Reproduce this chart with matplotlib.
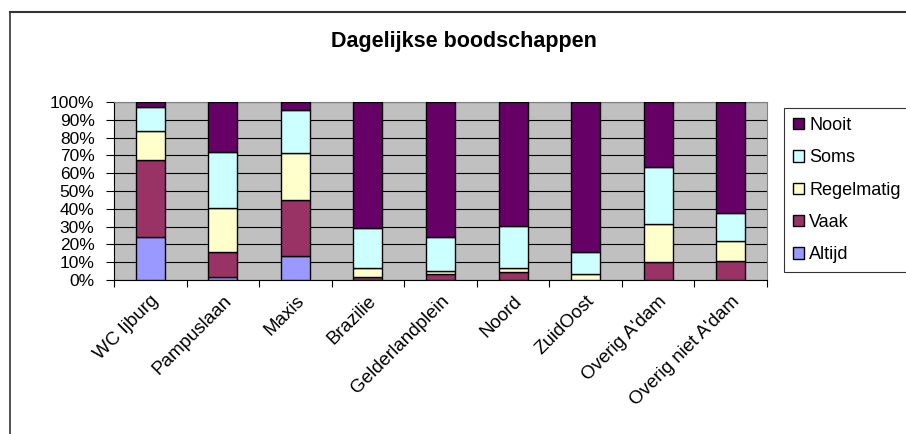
import matplotlib.pyplot as plt
import matplotlib.patches as mpatches
import numpy as np

plt.rcParams['font.family'] = ['Liberation Sans', 'DejaVu Sans']

locaties = ["WC Ijburg", "Pampuslaan", "Maxis", "Brazilie", "Gelderlandplein",
            "Noord", "ZuidOost", "Overig A'dam", "Overig niet A'dam"]

# percentages per antwoord (van onder naar boven gestapeld)
altijd = [24.3, 1.5, 13.5, 0.0, 0.0, 0.0, 0.0, 0.0, 0.0]
vaak = [43.1, 14.4, 31.4, 1.5, 3.6, 4.3, 0.0, 10.1, 10.8]
regelmatig = [16.5, 24.7, 26.3, 5.2, 1.5, 2.6, 3.6, 21.4, 11.3]
soms = [13.5, 31.3, 24.5, 22.7, 19.2, 23.4, 12.3, 31.8, 15.7]
nooit = [2.6, 28.1, 4.3, 70.6, 75.7, 69.7, 84.1, 36.7, 62.2]

reeksen = [("Altijd", altijd, "#9999FF"),
           ("Vaak", vaak, "#993366"),
           ("Regelmatig", regelmatig, "#FFFFCC"),
           ("Soms", soms, "#CCFFFF"),
           ("Nooit", nooit, "#660066")]

fig = plt.figure(figsize=(9.06, 4.34), dpi=100)
ax = fig.add_axes([114 / 906, 1 - 280 / 434, (767 - 114) / 906, (280 - 102) / 434])
ax.set_facecolor("#C0C0C0")

x = np.arange(len(locaties))
onder = np.zeros(len(locaties))
handles = []
for naam, waarden, kleur in reeksen:
    ax.bar(x, waarden, 0.4, bottom=onder, color=kleur, edgecolor="k", linewidth=1, zorder=3)
    onder += np.array(waarden)
    handles.append(mpatches.Patch(facecolor=kleur, edgecolor="k", label=naam))

ax.set_xlim(-0.5, len(locaties) - 0.5)
ax.set_ylim(0, 100)
ax.set_yticks(np.arange(0, 101, 10))
ax.set_yticklabels([f"{v}%" for v in range(0, 101, 10)], fontsize=12.5)
ax.yaxis.grid(True, color="k", linewidth=0.8, zorder=1)
ax.set_axisbelow(True)

ax.set_xticks(np.arange(len(locaties) + 1) - 0.5)
ax.set_xticklabels([])
ax.set_xticks(x, minor=True)
ax.set_xticklabels(locaties, minor=True, rotation=45, ha="right", rotation_mode="anchor", fontsize=13.5)
ax.tick_params(axis="x", which="minor", length=0, pad=9)
ax.tick_params(axis="x", which="major", length=5, direction="out")
ax.tick_params(axis="y", length=6, direction="out", pad=8)

for s in ["top", "right"]:
    ax.spines[s].set_color("#808080")
ax.spines["left"].set_color("k")
ax.spines["bottom"].set_color("k")

fig.text(464 / 906, 1 - 42 / 434, "Dagelijkse boodschappen", ha="center", va="center",
         fontsize=15.5, fontweight="bold")

leg = fig.legend(handles[::-1], [h.get_label() for h in handles[::-1]],
                 loc="upper left", bbox_to_anchor=(784 / 906, 1 - 108 / 434),
                 fontsize=13, frameon=True, fancybox=False, edgecolor="k",
                 handlelength=0.6, handleheight=0.6, handletextpad=0.3,
                 labelspacing=0.85, borderpad=0.5, borderaxespad=0)
leg.get_frame().set_linewidth(0.8)

# rand om de grafiek
fig.add_artist(plt.Line2D([10 / 906, 1], [1 - 12 / 434, 1 - 12 / 434], color="#333333", linewidth=1.5))
fig.add_artist(plt.Line2D([10 / 906, 10 / 906], [0, 1 - 12 / 434], color="#333333", linewidth=1.2))

fig.savefig("out.png", dpi=100)
